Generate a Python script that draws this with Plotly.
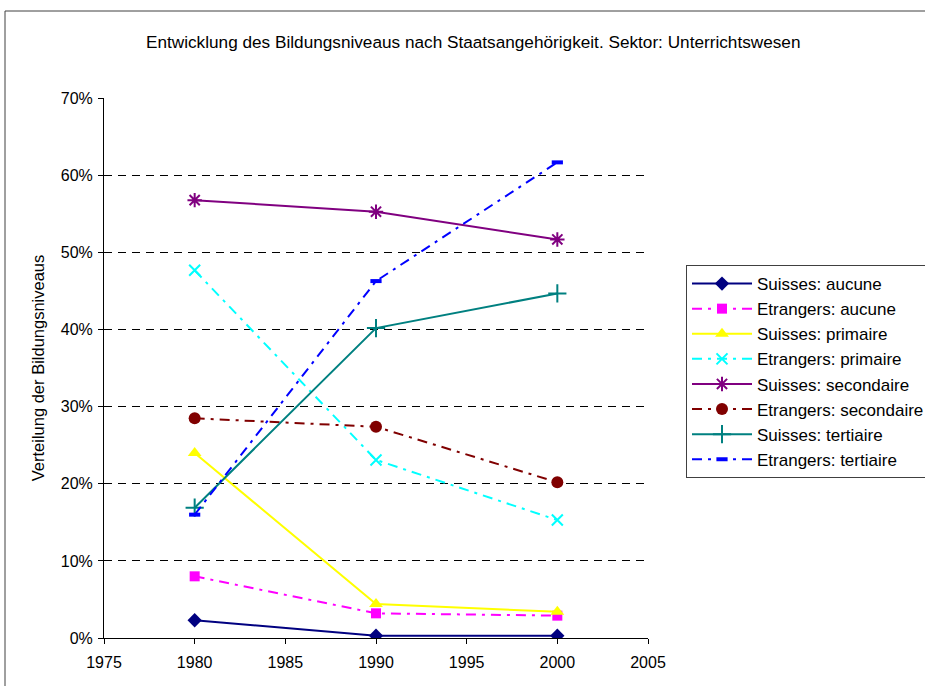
"""Bildungsniveau nach Staatsangehörigkeit - Sektor Unterrichtswesen."""

import plotly.graph_objects as go

years = [1980, 1990, 2000]

suisses_aucune = [0.023, 0.003, 0.003]
etrangers_aucune = [0.080, 0.032, 0.029]
suisses_primaire = [0.240, 0.044, 0.034]
etrangers_primaire = [0.477, 0.231, 0.153]
suisses_secondaire = [0.568, 0.553, 0.517]
etrangers_secondaire = [0.285, 0.274, 0.202]
suisses_tertiaire = [0.169, 0.402, 0.447]
etrangers_tertiaire = [0.160, 0.463, 0.617]

x_ticks = [1975, 1980, 1985, 1990, 1995, 2000, 2005]
y_ticks = [0, 0.1, 0.2, 0.3, 0.4, 0.5, 0.6, 0.7]

FONT = "Liberation Sans, Arial, sans-serif"
DASHDOT = "10px,6px,3px,6px"

# name, values, colour, dash, marker symbol, marker size, marker line width
series = [
    ("Suisses: aucune", suisses_aucune, "#000080", "solid", "diamond", 11, 0),
    ("Etrangers: aucune", etrangers_aucune, "#FF00FF", DASHDOT, "square", 10, 0),
    ("Suisses: primaire", suisses_primaire, "#FFFF00", "solid", "triangle-up", 12, 0),
    ("Etrangers: primaire", etrangers_primaire, "#00FFFF", DASHDOT, "x-thin-open", 11, 2),
    ("Suisses: secondaire", suisses_secondaire, "#800080", "solid", "asterisk-open", 12, 2),
    ("Etrangers: secondaire", etrangers_secondaire, "#800000", DASHDOT, "circle", 12, 0),
    ("Suisses: tertiaire", suisses_tertiaire, "#008080", "solid", "cross-thin-open", 13, 2),
    ("Etrangers: tertiaire", etrangers_tertiaire, "#0000FF", DASHDOT, "line-ew-open", 8, 4),
]

fig = go.Figure()
for i, (name, vals, color, dash, symbol, size, mlw) in enumerate(series):
    fig.add_trace(
        go.Scatter(
            x=years,
            y=vals,
            name=name,
            legendgroup=f"g{i}",
            mode="lines+markers",
            line=dict(color=color, width=2, dash=dash),
            marker=dict(symbol=symbol, size=size, color=color,
                        line=dict(color=color, width=mlw)),
        )
    )

fig.update_layout(
    width=925,
    height=686,
    margin=dict(l=104, r=277, t=98, b=48, autoexpand=False),
    plot_bgcolor="white",
    paper_bgcolor="white",
    font=dict(family=FONT, size=16, color="black"),
    showlegend=True,
    legend=dict(
        x=(686 - 104) / 544,
        y=(638 - 265) / 540,
        xanchor="left",
        yanchor="top",
        bordercolor="#404040",
        borderwidth=1,
        traceorder="grouped",
        tracegroupgap=0,
        itemwidth=60,
        font=dict(family=FONT, size=17, color="black"),
    ),
    annotations=[
        dict(
            text="Entwicklung des Bildungsniveaus nach Staatsangehörigkeit. Sektor: Unterrichtswesen",
            xref="paper",
            yref="paper",
            x=(473 - 104) / 544,
            y=(638 - 42) / 540,
            xanchor="center",
            yanchor="middle",
            showarrow=False,
            font=dict(family=FONT, size=17.2, color="black"),
        )
    ],
    shapes=[
        dict(
            type="rect",
            xref="paper",
            yref="paper",
            x0=(5 - 104) / 544,
            x1=1.6,
            y0=-0.2,
            y1=(638 - 11) / 540,
            line=dict(color="#404040", width=1),
            layer="below",
        )
    ],
)

fig.update_xaxes(
    range=[1975, 2005],
    tickvals=x_ticks,
    ticktext=[str(t) for t in x_ticks],
    showgrid=False,
    zeroline=False,
    showline=True,
    linecolor="black",
    linewidth=1,
    ticks="outside",
    ticklen=5,
    tickcolor="black",
    ticklabelstandoff=5,
    tickfont=dict(family=FONT, size=16),
)
fig.update_yaxes(
    range=[0, 0.7005],
    tickvals=y_ticks,
    tickformat=".0%",
    showgrid=True,
    gridcolor="black",
    gridwidth=1,
    griddash="8px,6px",
    zeroline=False,
    showline=True,
    linecolor="black",
    linewidth=1,
    ticks="outside",
    ticklen=5,
    tickcolor="black",
    ticklabelstandoff=2,
    tickfont=dict(family=FONT, size=16),
    title=dict(text="Verteilung der Bildungsniveaus",
               font=dict(family=FONT, size=16.5), standoff=11),
)

fig.write_html("out.html", config={"displayModeBar": False},
               post_script="document.body.style.margin='0';")
